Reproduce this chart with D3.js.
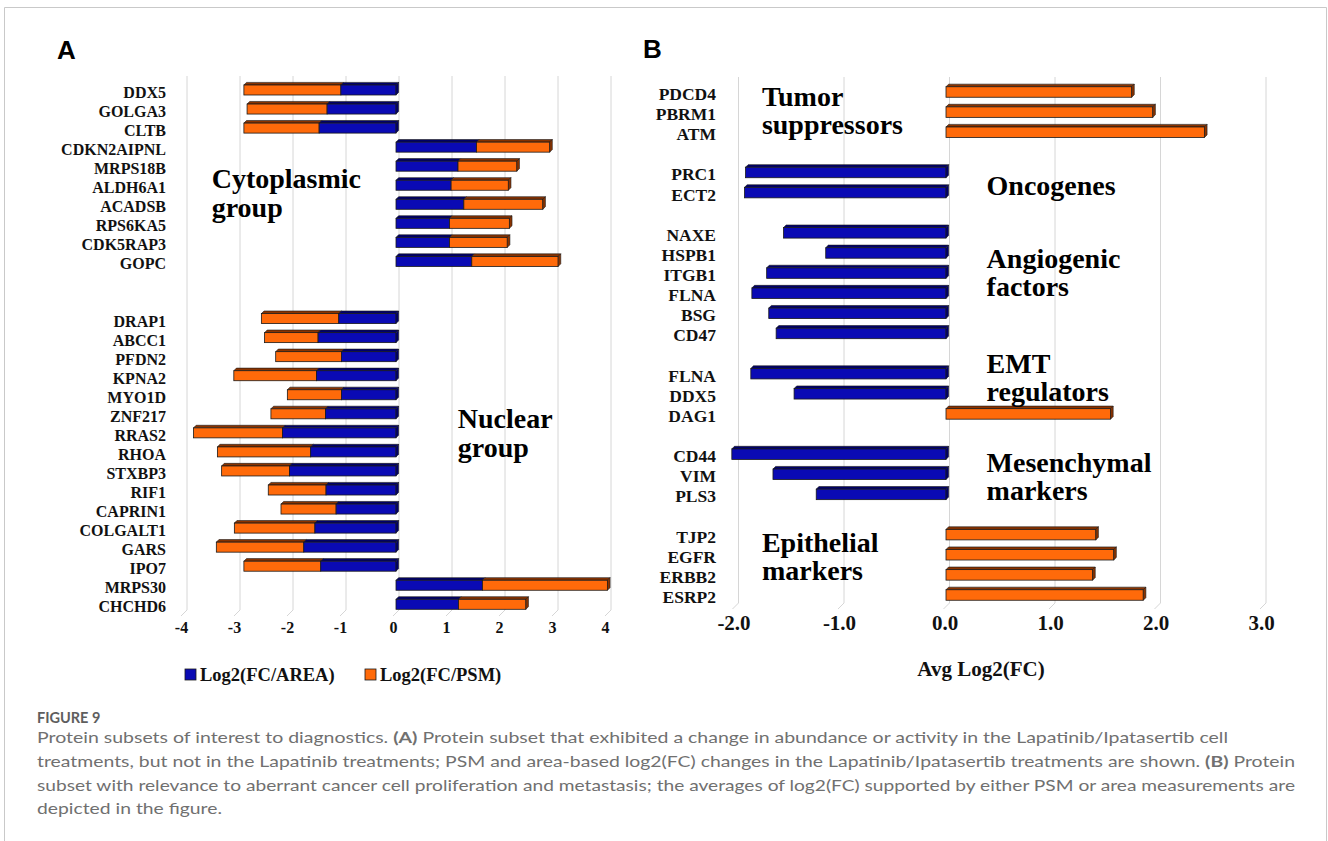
<!DOCTYPE html>
<html><head><meta charset="utf-8">
<script src="https://cdn.jsdelivr.net/npm/d3@7"></script>
<style>
html,body{margin:0;padding:0;background:#fff;}
svg{display:block;}
.serif{font-family:'Liberation Serif','Times New Roman',serif !important;font-weight:bold;}
</style></head>
<body>
<svg id="c" width="1328" height="841"></svg>
<script>
// ---------- Panel A data ----------
const aCategories = ["DDX5","GOLGA3","CLTB","CDKN2AIPNL","MRPS18B","ALDH6A1","ACADSB","RPS6KA5","CDK5RAP3","GOPC","","",
  "DRAP1","ABCC1","PFDN2","KPNA2","MYO1D","ZNF217","RRAS2","RHOA","STXBP3","RIF1","CAPRIN1","COLGALT1","GARS","IPO7","MRPS30","CHCHD6"];
const aArea = [-1.04,-1.30,-1.45,1.52,1.17,1.04,1.28,1.01,1.01,1.43,null,null,
  -1.08,-1.47,-1.03,-1.50,-1.03,-1.33,-2.14,-1.61,-2.01,-1.32,-1.13,-1.53,-1.74,-1.42,1.63,1.18];
const aPSM = [-1.83,-1.51,-1.42,1.38,1.11,1.08,1.49,1.13,1.09,1.63,null,null,
  -1.46,-1.01,-1.24,-1.56,-1.02,-1.03,-1.68,-1.76,-1.28,-1.09,-1.04,-1.52,-1.65,-1.45,2.36,1.27];
const aTicks = [-4,-3,-2,-1,0,1,2,3,4];
const aSeries = ["Log2(FC/AREA)","Log2(FC/PSM)"];
const aGroups = [["Cytoplasmic","group"],["Nuclear","group"]];

// ---------- Panel B data ----------
const bCategories = ["PDCD4","PBRM1","ATM","","PRC1","ECT2","","NAXE","HSPB1","ITGB1","FLNA","BSG","CD47","",
  "FLNA","DDX5","DAG1","","CD44","VIM","PLS3","","TJP2","EGFR","ERBB2","ESRP2"];
const bValues = [1.76,1.96,2.45,null,-1.90,-1.91,null,-1.54,-1.14,-1.70,-1.84,-1.68,-1.61,null,
  -1.85,-1.44,1.56,null,-2.03,-1.64,-1.23,null,1.42,1.59,1.39,1.87];
const bTicks = [-2,-1,0,1,2,3];
const bGroups = [["Tumor","suppressors"],["Oncogenes"],["Angiogenic","factors"],["EMT","regulators"],["Mesenchymal","markers"],["Epithelial","markers"]];
const bAxisTitle = "Avg Log2(FC)";

const captionTitle = "FIGURE 9";

// ---------- drawing ----------
const svg = d3.select("#c");
const BLUE = "#0a0ab4", BLUE_TOP = "#00006a", ORANGE = "#ff6a0a", ORANGE_TOP = "#8a3300";

function stext(sel, size){
  return sel.attr("class","serif").style("font-size", size+"px").attr("fill","#111");
}

// frame
svg.append("path").attr("d","M4.5,841 L4.5,7.5 L1326.5,7.5 L1326.5,841")
  .attr("fill","none").attr("stroke","#c9c9c9").attr("stroke-width",1);

function bar3d(g, x0, x1, cy, h, fill, top, drawEnd){
  const d = 2.6, t = cy - h/2, b = cy + h/2;
  g.append("path").attr("d",`M${x0},${t} L${x0+d},${t-d} L${x1+d},${t-d} L${x1},${t} Z`)
    .attr("fill", top).attr("stroke","#1a1a1a").attr("stroke-width",0.6);
  g.append("rect").attr("x",x0).attr("y",t).attr("width",Math.max(0,x1-x0)).attr("height",h)
    .attr("fill",fill).attr("stroke","#1a1a1a").attr("stroke-width",0.8);
  if(drawEnd){
    g.append("path").attr("d",`M${x1},${t} L${x1+d},${t-d} L${x1+d},${b-d} L${x1},${b} Z`)
      .attr("fill", top).attr("stroke","#1a1a1a").attr("stroke-width",0.6);
  }
}

function grid(g, x, ticks, yTop, yBot, off){
  ticks.forEach(v=>{
    const xt = x(v)+off;
    g.append("path").attr("d",`M${xt},${yTop} L${xt},${yBot} L${xt-6},${yBot+6}`)
      .attr("fill","none").attr("stroke","#d6d6d6").attr("stroke-width",1);
  });
}
const fmtA = d => (d<0?"-":"") + Math.abs(d).toFixed(0);
const fmtB = d => (d<0?"-":"") + Math.abs(d).toFixed(1);

// ---------- Panel A ----------
{
  const g = svg.append("g");
  const x = d3.scaleLinear().domain([-4,4]).range([184,608]);
  const y = d3.scalePoint().domain(d3.range(aCategories.length)).range([90,604.3]);
  grid(g, x, aTicks, 76, 610, 3);

  const ax = g.append("g").attr("transform","translate(-3,626)")
    .call(d3.axisBottom(x).tickValues(aTicks).tickFormat(fmtA).tickSize(0));
  ax.attr("font-family",null).attr("font-size",null);
  ax.select(".domain").remove();
  stext(ax.selectAll("text"),16).attr("dy","0.2em").attr("y",4);

  aCategories.forEach((c,i)=>{
    if(aArea[i]===null) return;
    const cy = y(i);
    const a = aArea[i], p = aPSM[i];
    const z = x(0), xa = x(a), xt = x(a+p);
    if(a >= 0){
      bar3d(g, z, xa, cy, 10, BLUE, BLUE_TOP, false);
      bar3d(g, xa, xt, cy, 10, ORANGE, ORANGE_TOP, true);
    } else {
      bar3d(g, xt, xa, cy, 10, ORANGE, ORANGE_TOP, false);
      bar3d(g, xa, z, cy, 10, BLUE, BLUE_TOP, true);
    }
    stext(g.append("text").attr("x",166).attr("y",cy+8).attr("text-anchor","end"),16).text(c);
  });

  const gl = [[211.7,188.3],[457.8,428.3]];
  aGroups.forEach((lines,k)=>{
    lines.forEach((t,j)=>{
      stext(g.append("text").attr("x",gl[k][0]).attr("y",gl[k][1]+j*28.5),28).attr("fill","#000").text(t);
    });
  });

  const lx = [185,365], lc = [BLUE, ORANGE];
  aSeries.forEach((s,i)=>{
    g.append("rect").attr("x",lx[i]).attr("y",669).attr("width",11).attr("height",11)
      .attr("fill",lc[i]).attr("stroke","#1a1a1a").attr("stroke-width",0.8);
    stext(g.append("text").attr("x",lx[i]+15).attr("y",681),18.5).text(s);
  });

  svg.append("text").attr("x",57).attr("y",59).style("font-family","'Liberation Sans',Arial,sans-serif")
    .style("font-weight","bold").style("font-size","26px").attr("fill","#000").text("A");
}

// ---------- Panel B ----------
{
  const g = svg.append("g");
  const x = d3.scaleLinear().domain([-2,3]).range([735,1262.5]);
  const y = d3.scalePoint().domain(d3.range(bCategories.length)).range([92,595]);
  grid(g, x, bTicks, 77, 603, 3.5);

  const ax = g.append("g").attr("transform","translate(-1.5,622)")
    .call(d3.axisBottom(x).tickValues(bTicks).tickFormat(fmtB).tickSize(0));
  ax.attr("font-family",null).attr("font-size",null);
  ax.select(".domain").remove();
  stext(ax.selectAll("text"),21).attr("dy","0.2em").attr("y",4);

  bCategories.forEach((c,i)=>{
    const v = bValues[i];
    if(v===null) return;
    const cy = y(i);
    const z = x(0), xv = x(v);
    if(v >= 0) bar3d(g, z, xv, cy, 10.5, ORANGE, ORANGE_TOP, true);
    else bar3d(g, xv, z, cy, 10.5, BLUE, BLUE_TOP, true);
    stext(g.append("text").attr("x",716).attr("y",cy+8).attr("text-anchor","end"),17.5).text(c);
  });

  const gl = [[761.9,106],[986.6,195],[986.6,268.3],[986.6,372.7],[986.6,471.7],[761.9,551.7]];
  bGroups.forEach((lines,k)=>{
    lines.forEach((t,j)=>{
      stext(g.append("text").attr("x",gl[k][0]).attr("y",gl[k][1]+j*28),28).attr("fill","#000").text(t);
    });
  });

  stext(g.append("text").attr("x",981).attr("y",676).attr("text-anchor","middle"),21).text(bAxisTitle);

  svg.append("text").attr("x",643).attr("y",58).style("font-family","'Liberation Sans',Arial,sans-serif")
    .style("font-weight","bold").style("font-size","26px").attr("fill","#000").text("B");
}

// ---------- Caption ----------
{
  const cf = "Lato,'Open Sans',sans-serif";
  svg.append("text").attr("x",37).attr("y",723).style("font-family",cf).style("font-weight","bold")
    .style("font-size","14.5px").attr("fill","#5e5e5e").text(captionTitle);
  const lines = [
    {w:1191, parts:[["Protein subsets of interest to diagnostics. ",0],["(A)",1],[" Protein subset that exhibited a change in abundance or activity in the Lapatinib/Ipatasertib cell",0]]},
    {w:1258, parts:[["treatments, but not in the Lapatinib treatments; PSM and area-based log2(FC) changes in the Lapatinib/Ipatasertib treatments are shown. ",0],["(B)",1],[" Protein",0]]},
    {w:1258, parts:[["subset with relevance to aberrant cancer cell proliferation and metastasis; the averages of log2(FC) supported by either PSM or area measurements are",0]]},
    {w:185, parts:[["depicted in the figure.",0]]}
  ];
  const ys = [743,767,791,814];
  lines.forEach((ln,i)=>{
    const t = svg.append("text").attr("x",37).attr("y",ys[i]).style("font-family",cf)
      .style("font-size","16px").attr("fill","#707070").attr("xml:space","preserve");
    ln.parts.forEach(p=>{
      t.append("tspan").style("font-weight",p[1]?"bold":"normal").text(p[0]);
    });
    t.attr("textLength",ln.w).attr("lengthAdjust","spacingAndGlyphs");
  });
}
</script>
</body></html>
